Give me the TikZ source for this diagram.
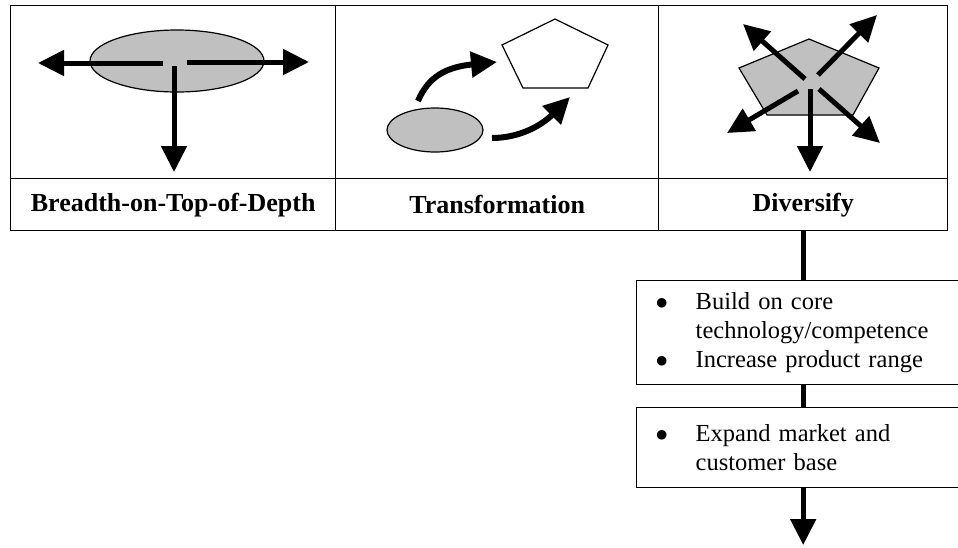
\documentclass[tikz,border=0pt]{standalone}
\usepackage{fontspec}
\setmainfont{Liberation Serif}
\usetikzlibrary{arrows.meta}

\definecolor{shade}{HTML}{C0C0C0}
\newcommand{\bul}{\makebox[40pt][l]{$\bullet$}}
\newcommand{\ind}{\hspace*{40pt}}

\begin{document}
\begin{tikzpicture}[x = 1pt, y = 1pt,
    cell/.style = {draw, line width = 1.4pt, inner sep = 0pt, anchor = north west,
      font = \fontsize{26}{30}\selectfont\bfseries},
    fat/.style = {line width = 5pt, -{Triangle[length = 26pt, width = 25pt]}},
    blob/.style = {draw, line width = 1.2pt, fill = shade},
    note/.style = {draw, line width = 1.4pt, anchor = north west, text width = 310pt,
      inner xsep = 19pt, align = left, font = \fontsize{24.5}{29}\selectfont}]
    \useasboundingbox (0,0) rectangle (958,-547);
    \clip (0,0) rectangle (958,-547);

    % the table
    \node [cell, minimum width = 325pt, minimum height = 173pt] (bpic) at (10,-5) {};
    \node [cell, minimum width = 323pt, minimum height = 173pt] (tpic) at (335,-5) {};
    \node [cell, minimum width = 289pt, minimum height = 173pt] (dpic) at (658,-5) {};
    \node [cell, minimum width = 325pt, minimum height = 52pt] (btitle) at (10,-178) {Breadth-on-Top-of-Depth};
    \node [cell, minimum width = 323pt, minimum height = 52pt] (ttitle) at (335,-178) {Transformation};
    \node [cell, minimum width = 289pt, minimum height = 52pt] (dtitle) at (658,-178) {Diversify};

    % breadth on top of depth
    \draw [blob] (177,-61) ellipse [x radius = 87, y radius = 31];
    \draw [fat] (163,-63) -- (38,-63);
    \draw [fat] (187,-62) -- (309,-62);
    \draw [fat] (174,-66) -- (174,-172);

    % transformation
    \draw [blob] (435,-130) ellipse [x radius = 48, y radius = 22];
    \draw [line width = 1.2pt] (555,-19) -- (608,-45) -- (588,-88) -- (523,-88) -- (502,-45) -- cycle;
    \draw [fat, line width = 6pt] (418,-101) .. controls (428,-77) and (446,-67) .. (497,-62);
    \draw [fat, line width = 6pt] (492,-138) .. controls (520,-138) and (542,-125) .. (570,-97);

    % diversify
    \draw [blob] (809,-39) -- (879,-68) -- (853,-115) -- (767,-115) -- (739,-68) -- cycle;
    \draw [fat] (805,-79) -- (743,-24);
    \draw [fat] (818,-75) -- (877,-15);
    \draw [fat] (798,-91) -- (727,-133);
    \draw [fat] (819,-89) -- (880,-143);
    \draw [fat] (810,-89) -- (810,-172);

    % what diversify means
    \node [note, minimum height = 104pt] (core) at (636,-280)
      {\bul Build on core\\ \ind technology/competence\\ \bul Increase product range};
    \node [note, minimum height = 80pt] (market) at (636,-407)
      {\bul Expand market and\\ \ind customer base};
    \coordinate (out) at (804,-545);
    \draw [line width = 5pt] (dtitle.south) -- (dtitle.south |- core.north);
    \draw [line width = 5pt] (dtitle.south |- core.south) -- (dtitle.south |- market.north);
    \draw [fat] (dtitle.south |- market.south) -- (dtitle.south |- out);
  \end{tikzpicture}
\end{document}
